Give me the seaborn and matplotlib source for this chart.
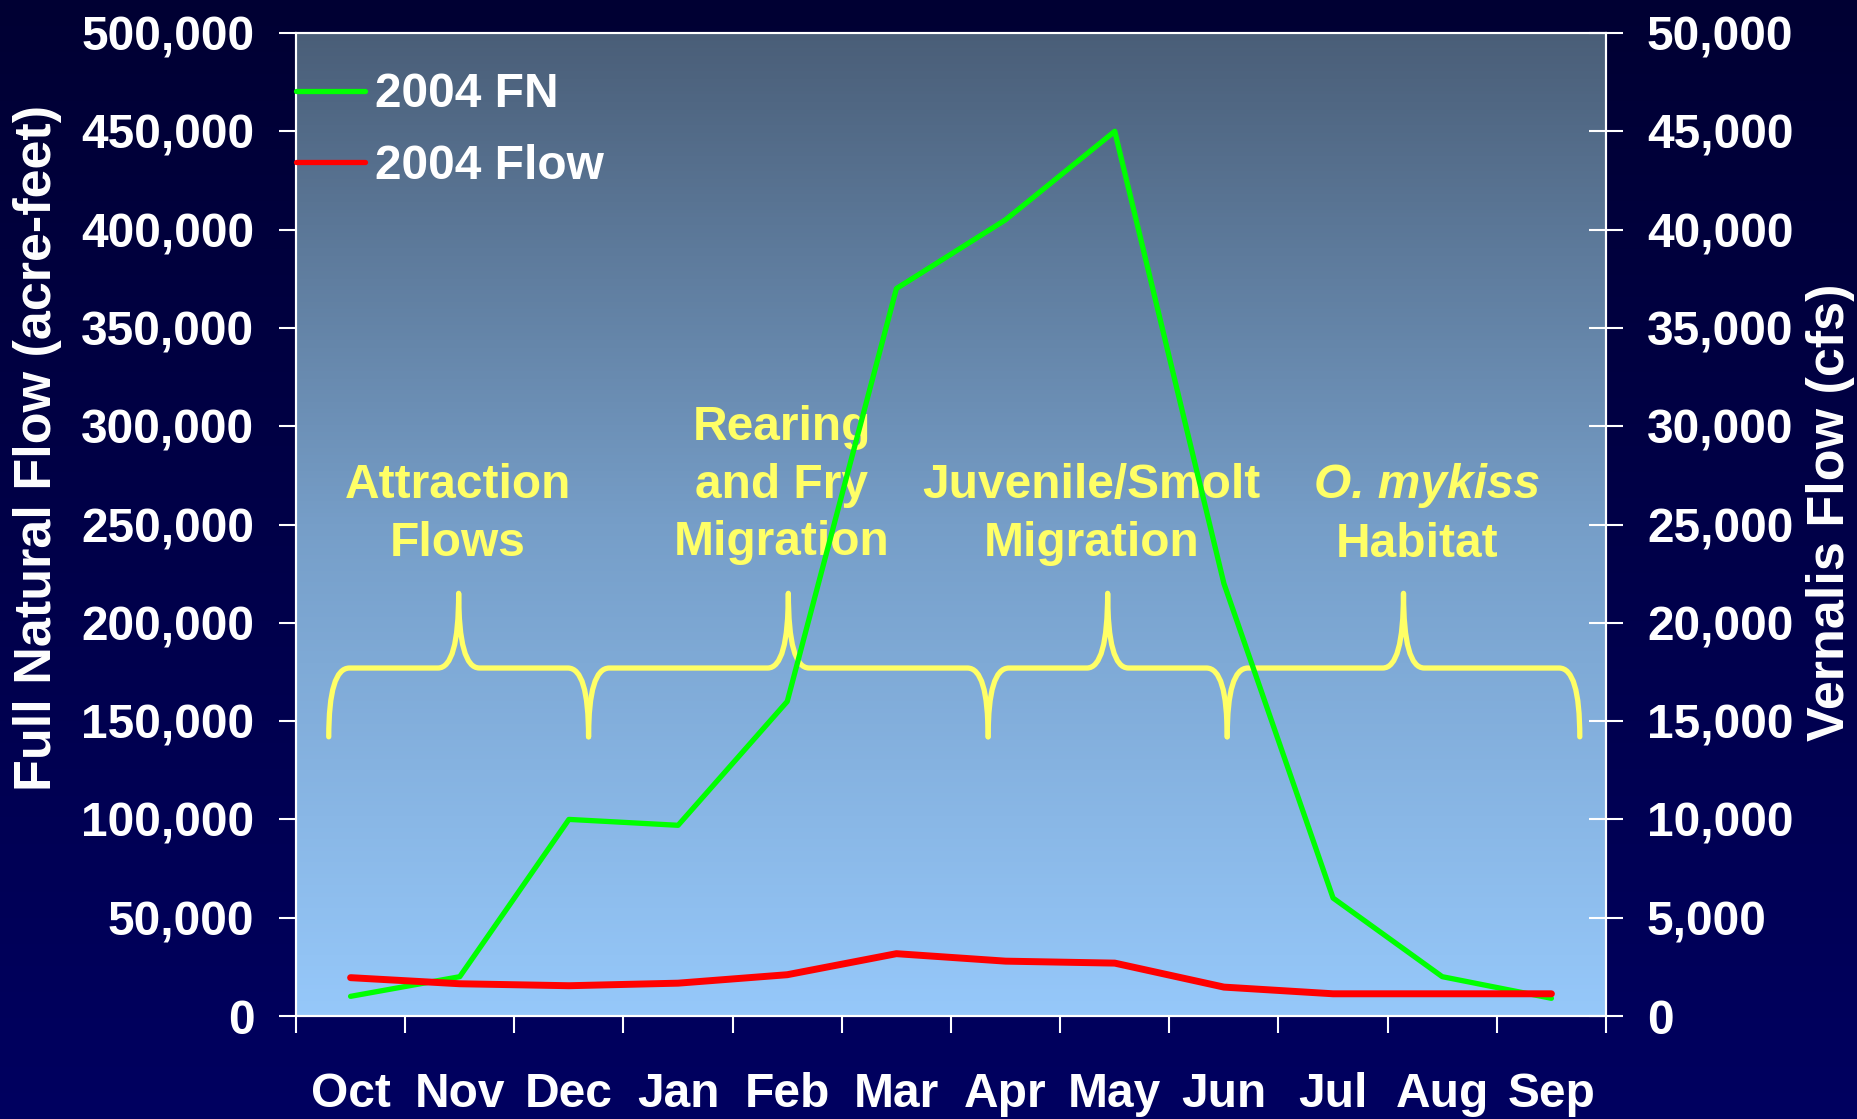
import numpy as np
import pandas as pd
import matplotlib
matplotlib.use("Agg")
import matplotlib.pyplot as plt
import seaborn as sns
from matplotlib.path import Path
from matplotlib.patches import PathPatch
from matplotlib.lines import Line2D
from matplotlib.ticker import FuncFormatter

# Data
months = ["Oct", "Nov", "Dec", "Jan", "Feb", "Mar", "Apr", "May", "Jun", "Jul", "Aug", "Sep"]
fn_2004 = [10000, 20000, 100000, 97000, 160000, 370000, 405000, 450000, 220000, 60000, 20000, 9000]
flow_2004 = [1950, 1640, 1540, 1670, 2100, 3170, 2790, 2690, 1470, 1130, 1130, 1130]

# Life-stage braces (x in month index units, y in acre-feet)
brace_start = [-0.2, 2.18, 5.84, 8.03]
brace_end = [2.18, 5.84, 8.03, 11.26]
brace_foot, brace_bar, brace_tip = 142000, 177000, 215000

phase_text = ["Attraction\nFlows", "Rearing\nand Fry\nMigration", "Juvenile/Smolt\nMigration"]
phase_x = [0.98, 3.95, 6.79]
phase_y = [255000, 270000, 255000]

df = pd.DataFrame({"month": months, "fn": fn_2004, "flow": flow_2004})

sns.set_style("ticks")
plt.rcParams["font.family"] = ["Liberation Sans", "DejaVu Sans"]
plt.rcParams["font.weight"] = "bold"

W, H = 1858, 1119
fig = plt.figure(figsize=(W / 100, H / 100), dpi=100)

# background gradients (figure + plot area)
left, right, top, bottom = 296 / W, 1606 / W, 1 - 33 / H, 1 - 1016 / H
bg = fig.add_axes([0, 0, 1, 1], zorder=-10)
bg.axis("off")
t = np.linspace(0, 1, 256)[:, None]
navy = np.dstack([np.interp(t, [0, 1], [0, 0]), np.interp(t, [0, 1], [0, 0]),
                  np.interp(t, [0, 1], [51, 96])]) / 255
bg.imshow(navy, extent=[0, 1, 0, 1], aspect="auto", origin="upper")
stops = [0, 0.5, 1]
blue = np.dstack([np.interp(t, stops, [74, 118, 150]), np.interp(t, stops, [94, 158, 200]),
                  np.interp(t, stops, [120, 200, 250])]) / 255
bg.imshow(blue, extent=[left, right, bottom, top], aspect="auto", origin="upper")
bg.set_xlim(0, 1)
bg.set_ylim(0, 1)

ax = fig.add_axes([left, bottom, right - left, top - bottom])
ax.set_facecolor("none")
ax2 = ax.twinx()
ax2.set_facecolor("none")

sns.lineplot(data=df, x="month", y="fn", ax=ax, color="#00ff00", lw=3.8, sort=False, zorder=4)
sns.lineplot(data=df, x="month", y="flow", ax=ax2, color="#ff0000", lw=5, sort=False, zorder=4)

# braces
for x0, x1 in zip(brace_start, brace_end):
    xm = (x0 + x1) / 2
    w = 0.19
    verts = [(x0, brace_foot), (x0, brace_bar), (x0 + w, brace_bar),
             (xm - w, brace_bar), (xm, brace_bar), (xm, brace_tip),
             (xm, brace_bar), (xm + w, brace_bar),
             (x1 - w, brace_bar), (x1, brace_bar), (x1, brace_foot)]
    codes = [Path.MOVETO, Path.CURVE3, Path.CURVE3, Path.LINETO, Path.CURVE3, Path.CURVE3,
             Path.CURVE3, Path.CURVE3, Path.LINETO, Path.CURVE3, Path.CURVE3]
    ax.add_patch(PathPatch(Path(verts, codes), fill=False, ec="#ffff66", lw=3.8,
                           joinstyle="round", capstyle="round", zorder=2))

yellow = "#ffff66"
for txt, x, y in zip(phase_text, phase_x, phase_y):
    ax.text(x, y, txt, ha="center", va="center", color=yellow, fontsize=34.5,
            fontweight="bold", linespacing=1.36, zorder=3)
ax.text(9.86, 270000, "O. mykiss", ha="center", va="center", color=yellow, fontsize=34.5,
        fontweight="bold", style="italic", zorder=3)
ax.text(9.77, 240000, "Habitat", ha="center", va="center", color=yellow, fontsize=34.5,
        fontweight="bold", zorder=3)

# axes
ax.set_xlim(-0.5, 11.5)
ax.set_ylim(0, 500000)
ax2.set_ylim(0, 50000)
ax.set_xticks(range(12))
ax.set_xticklabels(months)
ax.set_xticks(np.arange(-0.5, 12, 1), minor=True)
ax.set_yticks(np.arange(0, 500001, 50000))
ax2.set_yticks(np.arange(0, 50001, 5000))
fmt = FuncFormatter(lambda v, p: f"{v:,.0f}")
ax.yaxis.set_major_formatter(fmt)
ax2.yaxis.set_major_formatter(fmt)
ax.tick_params(axis="x", which="major", length=0, pad=40, labelsize=34.5, labelcolor="white")
ax.tick_params(axis="x", which="minor", length=12, width=1.5, color="white", direction="out")
ax.tick_params(axis="y", length=12, width=1.5, colors="white", labelsize=34.5, pad=18, direction="out")
ax2.tick_params(axis="y", length=24, width=1.5, colors="white", labelsize=34.5, pad=17.5, direction="inout")
ax.set_xlabel("")
ax.set_ylabel("")
ax2.set_ylabel("")
for a in (ax, ax2):
    for s in a.spines.values():
        s.set_color("white")
        s.set_linewidth(1.5)

fig.text(38 / W, 1 - 448 / H, "Full Natural Flow (acre-feet)", rotation=90, ha="center", va="center",
         color="white", fontsize=37.5, fontweight="bold")
fig.text(1831 / W, 1 - 512 / H, "Vernalis Flow (cfs)", rotation=90, ha="center", va="center",
         color="white", fontsize=37.5, fontweight="bold")

handles = [Line2D([], [], color="#00ff00", lw=3.8, solid_capstyle="round"),
           Line2D([], [], color="#ff0000", lw=3.8, solid_capstyle="round")]
leg = ax2.legend(handles, ["2004 FN", "2004 Flow"], loc="upper left", bbox_to_anchor=(0.0, 0.96),
                 frameon=False, fontsize=34.5, handlelength=1.45, handletextpad=0.2,
                 labelspacing=0.56, borderpad=0, borderaxespad=0)
for tx in leg.get_texts():
    tx.set_color("white")

fig.savefig("out.png", dpi=100)
